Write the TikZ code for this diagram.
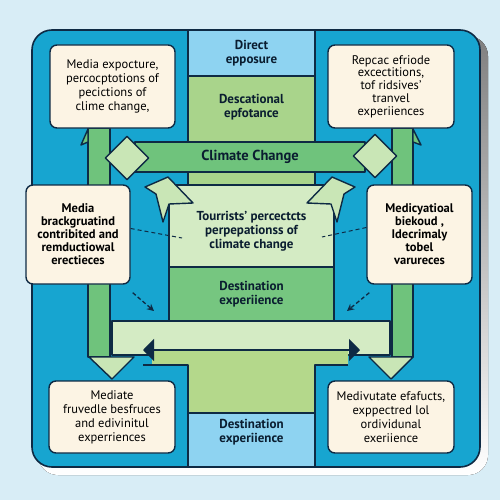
\documentclass[tikz,border=0pt]{standalone}
\usepackage{fontspec}
\setmainfont{PT Sans}
\usetikzlibrary{arrows.meta,shapes.geometric}
\definecolor{bg}{HTML}{D8EDF6}
\definecolor{shade}{HTML}{B3DAEB}
\definecolor{panel}{HTML}{17A5D0}
\definecolor{navy}{HTML}{0E2A44}
\definecolor{lblue}{HTML}{8ED3F1}
\definecolor{ygreen}{HTML}{A9D48B}
\definecolor{mgreen}{HTML}{6FC37C}
\definecolor{pgreen}{HTML}{D4EBC4}
\definecolor{dgreen}{HTML}{76C680}
\definecolor{lime}{HTML}{B4D88B}
\definecolor{dia}{HTML}{C9E6B6}
\definecolor{cream}{HTML}{FCF4E4}
\begin{document}
\begin{tikzpicture}[x=1pt,y=-1pt,line join=round,
  outl/.style={draw=navy,line width=1.4pt},
  cell/.style={outl,inner sep=0pt,align=center,font=\fontsize{13}{14}\selectfont\bfseries,text=navy!70!black},
  card/.style={outl,fill=cream,rounded corners=7pt,inner sep=0pt,align=center,font=\fontsize{12.5}{13}\selectfont\bfseries,text=black},
  cardr/.style={card,font=\fontsize{12.5}{14}\selectfont},
  txt/.style={inner sep=0pt,align=center,font=\fontsize{13}{14}\selectfont\bfseries,text=navy!70!black},
  dia/.style={outl,fill=dia,diamond,minimum width=44pt,minimum height=44pt,inner sep=0pt},
  chev/.style={outl,fill=dia},
  dashline/.style={draw=navy,line width=1pt,dashed,dash pattern=on 4pt off 3pt},
  darrow/.style={draw=navy,line width=1.3pt,dash pattern=on 4pt off 2.5pt,-{Stealth[length=7pt,width=7pt]}}]
\useasboundingbox (0,0) rectangle (500,500);
\fill[bg] (0,0) rectangle (500,500);
% panel shadow and panel
\fill[shade,rounded corners=20pt] (38,36) rectangle (488,475);
\filldraw[fill=panel,draw=navy,line width=1.6pt,rounded corners=20pt] (32,30) rectangle (480,467);
% central column
\node[cell,fill=lblue,minimum width=127pt,minimum height=46pt] (direct) at (251.5,53) {Direct\\epposure};
\node[cell,fill=ygreen,minimum width=127pt,minimum height=109pt] (desc) at (251.5,130.5) {};
\node[txt] (desclabel) at (251.5,107) {Descational\\epfotance};
% vertical bars
\node[outl,fill=mgreen,minimum width=22pt,minimum height=229pt,inner sep=0pt] (lbar) at (99,242.5) {};
\node[outl,fill=mgreen,minimum width=21pt,minimum height=229pt,inner sep=0pt] (rbar) at (402.5,242.5) {};
\filldraw[outl,fill=mgreen] (88,129) -- (81,145) -- (88,142) -- cycle;
\filldraw[outl,fill=mgreen] (413,129) -- (421,145) -- (413,142) -- cycle;
\filldraw[outl,fill=dia] (89,357) -- (134,357) -- (112,379) -- cycle;
\filldraw[outl,fill=dia] (369,357) -- (413,357) -- (391,379) -- cycle;
% climate change bar and diamonds
\node[cell,fill=mgreen,minimum width=230pt,minimum height=30pt,font=\fontsize{14.5}{15}\selectfont\bfseries] (climate) at (250,157) {Climate Change};
\node[dia] (dl) at (127,158) {};
\node[dia] (dr) at (375,156) {};
% lower band
\filldraw[outl,fill=pgreen] (112,321) rectangle (390,355);
\fill[lime] (152,350) -- (348,350) -- (348,365) -- (315,365) -- (315,413) -- (188,413) -- (188,365) -- (152,365) -- cycle;
\draw[outl] (143,365) -- (188,365) -- (188,413);
\draw[outl] (348,365) -- (315,365) -- (315,413);
% tourists and destination
\node[cell,fill=pgreen,minimum width=165pt,minimum height=82pt] (tour) at (251.5,226) {};
\node[txt] (tourlabel) at (251.5,231) {Tourrists' percectcts\\perpepationss of\\climate change};
\node[cell,fill=dgreen,minimum width=165pt,minimum height=54pt] (dest) at (251.5,294) {Destination\\experiience};
\node[cell,fill=lblue,minimum width=127pt,minimum height=54pt] (dest2) at (251.5,440) {};
\node[txt] (dest2label) at (251.5,432) {Destination\\experiience};
% double arrow
\coordinate (al) at (143,350);
\coordinate (ar) at (360,350);
\draw[navy,line width=2pt,{Triangle[length=11pt,width=22pt]}-{Triangle[length=11pt,width=22pt]}] (al) -- (ar);
% chevrons
\filldraw[chev] (145,187) -- (168,177) -- (193,203) -- (169,204) -- (163,222) -- (156,194) -- cycle;
\filldraw[chev] (355,187) -- (332,177) -- (307,203) -- (331,204) -- (337,222) -- (344,194) -- cycle;
% cards
\node[cardr,minimum width=125pt,minimum height=83pt] (tl) at (112.5,86.5) {Media expocture,\\percocptotions of\\pecictions of\\clime change,};
\node[cardr,minimum width=126pt,minimum height=83pt,font=\fontsize{12.5}{12.8}\selectfont] (tr) at (391,86.5) {Repcac efriode\\excectitions,\\tof ridsives'\\tranvel\\experiiences};
\node[card,minimum width=104pt,minimum height=99pt] (ml) at (78,234.5) {Media\\brackgruatind\\contribited and\\remductiowal\\erectieces};
\node[card,minimum width=105pt,minimum height=99pt] (mr) at (419.5,234.5) {Medicyatioal\\biekoud ,\\Idecrimaly\\tobel\\varureces};
\node[cardr,minimum width=126pt,minimum height=72pt] (bl) at (112,417) {Mediate\\fruvedle besfruces\\and edivinitul\\experriences};
\node[cardr,minimum width=126pt,minimum height=72pt] (br) at (391,417) {Medivutate efafucts,\\exppectred lol\\ordividunal\\exeriience};
% dashed connectors
\coordinate (lt) at (182,238);
\coordinate (rt) at (322,237);
\draw[dashline] ([yshift=6pt]ml.east) -- (lt);
\draw[dashline] ([yshift=7pt]mr.west) -- (rt);
\coordinate (la) at (154,311);
\coordinate (ra) at (347,311);
\draw[darrow] ([xshift=2pt,yshift=-8pt]ml.south east) -- (la);
\draw[darrow] ([xshift=3pt,yshift=-8pt]mr.south west) -- (ra);
\end{tikzpicture}
\end{document}
